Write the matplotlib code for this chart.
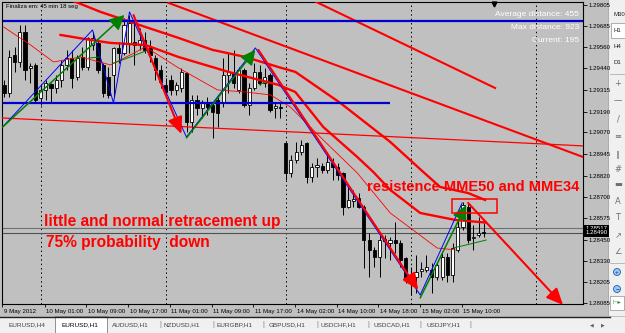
import matplotlib
matplotlib.use("Agg")
import matplotlib.pyplot as plt
import matplotlib.transforms as mtransforms
from matplotlib.patches import Rectangle, Circle

plt.rcParams["font.family"] = ["Liberation Sans", "DejaVu Sans"]

# EURUSD H1 candles, bar 0 = 10 May 2012 00:00
bars = list(range(-7, 86))
opens = [1.29344, 1.29297, 1.29517, 1.29476, 1.29649, 1.29442, 1.29459,
         1.29269, 1.29315, 1.29349, 1.29326, 1.29372, 1.29459, 1.29499, 1.29390, 1.29505, 1.29447,
         1.29574, 1.29586, 1.29459, 1.29390, 1.29401, 1.29557, 1.29528, 1.29586, 1.29592, 1.29574,
         1.29603, 1.29563, 1.29499, 1.29430, 1.29344, 1.29372, 1.29315, 1.29326, 1.29413, 1.29130,
         1.29257, 1.29211, 1.29240, 1.29228, 1.29257, 1.29240, 1.29401, 1.29413, 1.29315, 1.29430,
         1.29228, 1.29326, 1.29419, 1.29355, 1.29401, 1.29211, 1.29217, 1.29009, 1.28836, 1.28911,
         1.28957, 1.29009, 1.28813, 1.28870, 1.28876, 1.28853, 1.28894, 1.28870, 1.28836, 1.28640,
         1.28674, 1.28692, 1.28640, 1.28449, 1.28392, 1.28351, 1.28455, 1.28432, 1.28449, 1.28432,
         1.28345, 1.28218, 1.28236, 1.28270, 1.28276, 1.28276, 1.28236, 1.28236, 1.28351, 1.28247,
         1.28392, 1.28524, 1.28640, 1.28461, 1.28478, 1.28495]
highs = [1.29372, 1.29546, 1.29563, 1.29690, 1.29690, 1.29470, 1.29470,
         1.29344, 1.29372, 1.29355, 1.29401, 1.29488, 1.29546, 1.29546, 1.29517, 1.29563, 1.29620,
         1.29649, 1.29615, 1.29470, 1.29447, 1.29563, 1.29592, 1.29730, 1.29747, 1.29701, 1.29672,
         1.29649, 1.29603, 1.29517, 1.29459, 1.29384, 1.29401, 1.29361, 1.29442, 1.29419, 1.29286,
         1.29286, 1.29257, 1.29274, 1.29240, 1.29274, 1.29499, 1.29528, 1.29546, 1.29447, 1.29442,
         1.29355, 1.29470, 1.29459, 1.29442, 1.29413, 1.29240, 1.29245, 1.29015, 1.28940, 1.29015,
         1.29026, 1.29015, 1.28894, 1.28922, 1.28894, 1.28957, 1.28922, 1.28894, 1.28842, 1.28755,
         1.28738, 1.28720, 1.28651, 1.28490, 1.28409, 1.28478, 1.28478, 1.28467, 1.28553, 1.28449,
         1.28351, 1.28293, 1.28363, 1.28322, 1.28363, 1.28317, 1.28317, 1.28374, 1.28374, 1.28432,
         1.28565, 1.28669, 1.28669, 1.28536, 1.28582, 1.28547]
lows = [1.29274, 1.29274, 1.29419, 1.29447, 1.29372, 1.29355, 1.29240,
        1.29228, 1.29257, 1.29240, 1.29297, 1.29332, 1.29430, 1.29326, 1.29372, 1.29430, 1.29430,
        1.29546, 1.29413, 1.29274, 1.29269, 1.29274, 1.29470, 1.29517, 1.29528, 1.29459, 1.29546,
        1.29528, 1.29476, 1.29372, 1.29326, 1.29286, 1.29286, 1.29286, 1.29303, 1.29072, 1.29072,
        1.29170, 1.29153, 1.29170, 1.29038, 1.29101, 1.29217, 1.29297, 1.29326, 1.29297, 1.29217,
        1.29170, 1.29315, 1.29344, 1.29332, 1.29188, 1.29153, 1.29153, 1.28795, 1.28813, 1.28894,
        1.28940, 1.28778, 1.28784, 1.28813, 1.28836, 1.28836, 1.28795, 1.28795, 1.28594, 1.28634,
        1.28640, 1.28634, 1.28288, 1.28236, 1.28293, 1.28236, 1.28345, 1.28334, 1.28374, 1.28293,
        1.28201, 1.28132, 1.28143, 1.28236, 1.28265, 1.28143, 1.28218, 1.28218, 1.28207, 1.28207,
        1.28380, 1.28507, 1.28432, 1.28392, 1.28467, 1.28467]
closes = [1.29297, 1.29505, 1.29476, 1.29649, 1.29430, 1.29453, 1.29257,
          1.29315, 1.29355, 1.29326, 1.29372, 1.29459, 1.29499, 1.29384, 1.29499, 1.29447, 1.29615,
          1.29615, 1.29430, 1.29297, 1.29286, 1.29557, 1.29528, 1.29690, 1.29701, 1.29574, 1.29603,
          1.29546, 1.29517, 1.29430, 1.29361, 1.29303, 1.29315, 1.29344, 1.29419, 1.29130, 1.29257,
          1.29211, 1.29240, 1.29217, 1.29188, 1.29182, 1.29401, 1.29419, 1.29355, 1.29430, 1.29228,
          1.29326, 1.29419, 1.29355, 1.29390, 1.29199, 1.29222, 1.29211, 1.28836, 1.28911, 1.28957,
          1.28997, 1.28813, 1.28870, 1.28882, 1.28853, 1.28899, 1.28870, 1.28824, 1.28640, 1.28680,
          1.28686, 1.28640, 1.28449, 1.28392, 1.28351, 1.28449, 1.28443, 1.28449, 1.28432, 1.28334,
          1.28218, 1.28247, 1.28265, 1.28282, 1.28293, 1.28236, 1.28305, 1.28351, 1.28247, 1.28403,
          1.28524, 1.28651, 1.28449, 1.28467, 1.28490, 1.28490]

# moving averages (MME50, MME34, fast) as drawn on chart
mme50_x = [5.75, 11.49, 20.11, 26.44, 32.95, 39.27, 45.59, 48.85, 57.47, 67.05, 73.37, 76.63, 81.99, 85.25]
mme50_y = [1.29834, 1.29765, 1.29678, 1.29615, 1.29546, 1.29505, 1.29447, 1.29419, 1.29240,
           1.29015, 1.28842, 1.28755, 1.28720, 1.28680]
mme34_x = [3.83, 9.58, 13.41, 20.11, 26.44, 36.02, 45.59, 48.85, 54.21, 60.73, 63.79, 67.05,
           72.80, 76.63, 79.50, 85.25]
mme34_y = [1.29632, 1.29603, 1.29586, 1.29574, 1.29505, 1.29419, 1.29344, 1.29303, 1.29101,
           1.28928, 1.28842, 1.28738, 1.28605, 1.28582, 1.28565, 1.28550]
fast_x = [-7.09, -1.92, 2.49, 7.66, 13.41, 17.24, 20.11, 26.44, 33.91, 39.27, 44.06, 47.89,
          54.21, 60.73, 67.05, 76.05, 79.50]
fast_y = [1.29678, 1.29574, 1.29476, 1.29505, 1.29459, 1.29517, 1.29563, 1.29442, 1.29315,
          1.29303, 1.29286, 1.29217, 1.29026, 1.28836, 1.28605, 1.28403, 1.28392]
green_segs = [([9.20, 11.49], [1.29499, 1.29505]),
              ([13.98, 17.24, 20.69], [1.29470, 1.29505, 1.29546]),
              ([41.95, 43.10], [1.29344, 1.29361]),
              ([79.12, 82.38, 85.44], [1.28403, 1.28426, 1.28449])]

zigzag_x = [-7.28, 9.96, 13.98, 17.05, 27.97, 41.19, 72.80, 80.84]
zigzag_y = [1.29101, 1.29661, 1.29240, 1.29765, 1.29043, 1.29557, 1.28132, 1.28663]

# trend lines
trend_lines = [([24.52, 104.02], [1.29817, 1.28928]),
               ([52.87, 87.16], [1.29822, 1.29326])]
flat_line = ([-7.28, 104.02], [1.29153, 1.28992])
up_arrows = [([-7.28, 16.09], [1.29101, 1.29747]),
             ([27.97, 41.19], [1.29038, 1.29546]),
             ([72.80, 81.61], [1.28115, 1.28651])]
down_arrows = [([17.82, 27.01], [1.29747, 1.29061]),
               ([41.76, 72.41], [1.29546, 1.28161]),
               ([81.99, 100.19], [1.28663, 1.28074])]
resist_box = ([78.93, 87.55], [1.28605, 1.28686])
blue_top = 1.29713
blue_low = 1.29240
blue_low_end = 67.05
ask, bid = 1.28517, 1.28490
day_breaks = [0, 24, 47, 71, 95]

price_ticks = [1.29805, 1.29685, 1.29560, 1.29440, 1.29315, 1.29190, 1.29070, 1.28945,
               1.28820, 1.28700, 1.28575, 1.28450, 1.28330, 1.28205, 1.28085]
time_ticks = [-7.4, 0.8, 8.8, 16.8, 24.8, 32.8, 40.8, 48.8, 56.8, 64.8, 72.8, 80.8]
time_labels = ["9 May 2012", "10 May 01:00", "10 May 09:00", "10 May 17:00", "11 May 01:00",
               "11 May 09:00", "11 May 17:00", "14 May 02:00", "14 May 10:00", "14 May 18:00",
               "15 May 02:00", "15 May 10:00"]
tabs = ["EURUSD,H4", "EURUSD,H1", "AUDUSD,H1", "NZDUSD,H1", "EURGBP,H1", "GBPUSD,H1",
        "USDCHF,H1", "USDCAD,H1", "USDJPY,H1"]
tab_centers = [27, 80, 130, 182, 235, 287, 338, 392, 444]
timeframes = ["M30", "H1", "H4", "D1"]

BG = "#c0c0c0"
fig = plt.figure(figsize=(6.25, 3.33), dpi=100, facecolor=BG)

# window chrome (pixel space)
ui = fig.add_axes([0, 0, 1, 1], zorder=0)
ui.set_xlim(0, 625)
ui.set_ylim(333, 0)
ui.axis("off")
ui.add_patch(Rectangle((0, 316.5), 625, 17, fc="#f0f0f0", ec="none"))
ui.plot([0, 610], [316.5, 316.5], color="#202020", lw=1.0)
ui.add_patch(Rectangle((55, 315.5), 52, 18, fc="white", ec="#808080", lw=0.6))
for name, cx in zip(tabs, tab_centers):
    ui.text(cx, 325, name, fontsize=4.6, ha="center", va="center",
            color="#000000" if name == "EURUSD,H1" else "#404040")
for sx in [160, 213, 263, 317, 368, 420, 470]:
    ui.text(sx, 325, "|", fontsize=5, ha="center", va="center", color="#808080")
ui.text(592, 325, "◀", fontsize=3.5, ha="center", va="center", color="#606060")
ui.text(603, 325, "▶", fontsize=3.5, ha="center", va="center", color="#606060")
ui.add_patch(Rectangle((608, 0), 17, 316, fc="#f0f0f0", ec="none"))
ui.plot([608, 608], [0, 316], color="#a0a0a0", lw=0.6)
ui.add_patch(Rectangle((611, 23), 14, 15, fc="white", ec="#909090", lw=0.5))
for tf, ty in zip(timeframes, [15, 30, 46, 63]):
    ui.text(613, ty, tf, fontsize=4.3, va="center", color="#202020")
for sy in [74, 263]:
    ui.plot([610, 625], [sy, sy], color="#b0b0b0", lw=0.6)
icons = ["+", "—", "/", "≡", "∥", "#", "▬", "A", "T", "↗", "∠"]
for ic, iy in zip(icons, [84, 101, 119, 137, 154, 170, 185, 201, 218, 236, 252]):
    ui.text(618, iy, ic, fontsize=6, ha="center", va="center", color="#707070",
            family=["DejaVu Sans"])
for iy, sign in [(272, "+"), (289, "−")]:
    ui.add_patch(Circle((617, iy), 3.5, fc="#9ec5f0", ec="#2060b0", lw=0.6))
    ui.text(617, iy, sign, fontsize=4.5, ha="center", va="center", color="#103070")
ui.add_patch(Rectangle((610, 296), 14, 14, fc="white", ec="#909090", lw=0.5))
ui.text(617, 303, "⊢▸", fontsize=4.5, ha="center", va="center", color="#208020",
        family=["DejaVu Sans"])

# main chart
ax = fig.add_axes([2 / 625, 29 / 333, 581 / 625, 302 / 333], zorder=1)
ax.set_facecolor(BG)
ax.set_xlim(-7.28, 104.02)
ax.set_ylim(1.28080, 1.29822)

for d in day_breaks:
    ax.axvline(d, color="black", lw=0.7, ls=(0, (1.5, 3)), zorder=1)

ax.axhline(ask, color="#707070", lw=0.8, zorder=1)
ax.axhline(bid, color="#505050", lw=0.8, zorder=1)

ax.vlines(bars, lows, highs, color="black", lw=0.7, zorder=2)
bottoms = [min(o, c) for o, c in zip(opens, closes)]
heights = [max(abs(c - o), 0.00003) for o, c in zip(opens, closes)]
colors = ["white" if c > o else "black" for o, c in zip(opens, closes)]
ax.bar(bars, heights, bottom=bottoms, width=0.6, color=colors, edgecolor="black",
       linewidth=0.6, zorder=3)

ax.plot(fast_x, fast_y, color="#ff0000", lw=0.6, zorder=4)
ax.plot(mme34_x, mme34_y, color="#ff0000", lw=1.7, zorder=4)
ax.plot(mme50_x, mme50_y, color="#ff0000", lw=1.7, zorder=4)
for gx, gy in green_segs:
    ax.plot(gx, gy, color="#008000", lw=0.7, zorder=4)

ax.plot(*flat_line, color="#ff0000", lw=0.9, zorder=4)
for tx, ty in trend_lines:
    ax.plot(tx, ty, color="#ff0000", lw=1.5, zorder=4)

ax.hlines(blue_top, -7.28, 104.02, color="#0000d0", lw=1.6, zorder=5)
ax.hlines(blue_low, -7.28, blue_low_end, color="#0000d0", lw=1.6, zorder=5)

ax.plot(zigzag_x, zigzag_y, color="#0000ff", lw=0.7, zorder=5)

for (x0, x1), (y0, y1) in up_arrows:
    ax.annotate("", xy=(x1, y1), xytext=(x0, y0), annotation_clip=False, zorder=6,
                arrowprops=dict(arrowstyle="-|>,head_length=0.9,head_width=0.45",
                                color="#008000", lw=1.1, shrinkA=0, shrinkB=0))
for (x0, x1), (y0, y1) in down_arrows:
    ax.annotate("", xy=(x1, y1), xytext=(x0, y0), annotation_clip=False, zorder=6,
                arrowprops=dict(arrowstyle="-|>,head_length=1.0,head_width=0.45",
                                color="#ff0000", lw=1.5, shrinkA=0, shrinkB=0))

(bx0, bx1), (by0, by1) = resist_box
ax.add_patch(Rectangle((bx0, by0), bx1 - bx0, by1 - by0, fill=False, ec="#ff0000", lw=1.1,
                       zorder=6))

ax.text(62.64, 1.28755, "resistence MME50 and MME34", color="#ff0000", fontsize=10.5,
        fontweight="bold", va="center", zorder=7)
ax.text(0.57, 1.28553, "little and normal retracement up", color="#ff0000", fontsize=11.2,
        fontweight="bold", va="center", zorder=7)
ax.text(0.96, 1.28432, "75% probability  down", color="#ff0000", fontsize=11.2,
        fontweight="bold", va="center", zorder=7)

ax.text(0.007, 0.985, "Finaliza em: 45 min 18 seg", transform=ax.transAxes, fontsize=4.3,
        va="center", color="black", zorder=7)
for txt, yy in [("Average distance: 455", 0.957), ("Max distance: 923", 0.914),
                ("Current: 195", 0.871)]:
    ax.text(0.993, yy, txt, transform=ax.transAxes, fontsize=6, ha="right", va="center",
            color="white", zorder=7)
ax.plot(0.847, 0.993, marker="v", color="black", ms=3.5, transform=ax.transAxes,
        clip_on=False, zorder=7)

# axes
ax.yaxis.tick_right()
ax.set_yticks(price_ticks)
ax.set_yticklabels([f"{p:.5f}" for p in price_ticks])
ax.tick_params(axis="y", length=3, pad=1, labelsize=4.4, width=0.6)
ax.set_xticks(time_ticks)
ax.set_xticklabels(time_labels, ha="left")
ax.tick_params(axis="x", length=2.5, pad=1, labelsize=4.4, width=0.6)
shift = mtransforms.ScaledTranslation(1.5 / 100, 0, fig.dpi_scale_trans)
for lab in ax.get_xticklabels():
    lab.set_transform(lab.get_transform() + shift)
for sp in ax.spines.values():
    sp.set_color("black")
    sp.set_linewidth(0.8)

blend = mtransforms.blended_transform_factory(ax.transAxes, ax.transData)
for val in [ask, bid]:
    ax.text(1.004, val, f"{val:.5f}", transform=blend, fontsize=4.4, color="white",
            va="center", ha="left", zorder=8,
            bbox=dict(boxstyle="square,pad=0.2", fc="black", ec="none"))

fig.savefig("out.png", dpi=100, facecolor=BG)
